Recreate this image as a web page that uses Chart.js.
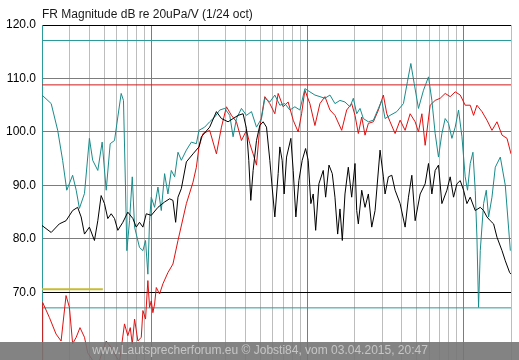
<!DOCTYPE html>
<html><head><meta charset="utf-8">
<script src="https://cdn.jsdelivr.net/npm/chart.js@4.4.0/dist/chart.umd.min.js"></script>
<style>html,body{margin:0;padding:0;background:#fff;overflow:hidden}#wrap{width:519px;height:360px;position:relative;overflow:hidden}canvas{display:block}</style>
</head><body><div id="wrap"><canvas id="c" width="519" height="374"></canvas></div>
<script>
const titleText = "FR Magnitude dB re 20uPa/V (1/24 oct)";
const footerText = "www.Lautsprecherforum.eu \u00A9 Jobsti84, vom 03.04.2015, 20:47";

const xTickValues = [20,30,40,50,60,70,80,90,100,200,300,400,500,600,700,800,900,1000,2000,3000,4000,5000,6000,7000,8000,9000,10000,20000];
const yTickValues = [70,80,90,100,110,120];

const freqTeal = [20,22.9,25.2,27.1,28.8,31.4,33.1,34.7,37.4,40.2,42.2,45.5,48.5,51.5,54.6,58.2,61.1,64.2,66.4,68.4,69.8,72.6,75.6,78.2,84.1,88.4,91.9,95.1,97.5,100,105,110.3,115.9,121.7,127.8,134.3,141.1,148.2,155.7,167.7,180.5,194.3,201.9,219.6,236.4,254.6,274.1,295.1,317.7,333.7,350.7,377.4,406.5,437.5,471,507,532.4,573.2,617.1,664.3,715.2,770,828.9,892.4,960.9,1034,1114,1199,1291,1390,1496,1611,1734,1867,1961,2061,2164,2273,2447,2634,2837,2981,3130,3370,3720,4102,4350,4574,4803,5119,5512,5933,6235,6546,6875,7227,7587,7969,8375,8794,9236,9711,10190,10543,10970,11416,11810,12110,12404,12720,13360,13894,14379,15114,15870,17090,18390,19810];
const dbTeal = [106.9,105.3,100.3,94.7,89.1,91.9,89.1,85.7,88.5,98.8,94.7,92.8,98.1,89.1,97.8,98.4,102.8,107.2,105.9,89.7,77.8,83.4,91.6,82.2,78.4,77.8,79.7,73.4,83.4,87.8,85.9,89.7,85.3,92.2,88.4,92.8,91.6,96.2,94.7,96.6,98.1,97.8,100.3,100.9,101.9,102.8,104.1,104.4,103.1,99.1,102.5,104.4,103.1,103.8,100.9,102.5,106.3,105.6,106.9,105,105.3,104.1,104.7,104.1,108.1,107.5,106.9,106.6,106.3,106.9,105.3,105.9,105.6,104.7,106.3,103.4,104.4,102.5,101.9,102.2,104.4,105.9,102.5,103.1,103.8,105.3,109.4,112.8,109.1,104.4,107.8,110.3,105.9,99.7,95.3,99.7,102.5,101.6,98.8,100.9,104.1,99.1,91.6,89.1,94.1,96.2,89.1,80.3,67.2,77.8,86.6,89.1,84.1,87.8,93.4,95.3,90,77.8];

const freqBlack = [20,22.9,25.8,28.5,31.4,33.8,35.6,37.4,40.2,43.3,45.5,47.8,50.2,52.7,55.4,58.2,61.1,65.8,70.8,76.3,80.1,84.1,88.4,92.9,100,110.3,121.7,131,137.6,143.2,148.2,155.7,167.7,184.9,201.9,209.2,236.4,261.1,281.1,309.9,333.7,359.2,386.6,406.5,420.4,433.1,448.2,471,494.5,519.4,545.9,573.2,593,617.1,648.1,664.3,687.3,707.8,733.4,781.5,808.7,841.2,879.3,923.3,970.9,1009,1049,1086,1126,1181,1259,1304,1370,1438,1496,1557,1611,1667,1734,1821,1914,2010,2061,2111,2219,2330,2447,2572,2701,2907,3053,3130,3287,3456,3628,3906,4205,4417,4642,4874,5248,5649,5933,6235,6546,6875,7227,7780,8168,8579,9017,9470,9946,10449,10970,11810,12720,13360,14038,14740,15481,16273,17524,18390,19606,20000];
const dbBlack = [82.5,81.2,82.8,83.4,85.3,85.9,84.1,80.9,82.2,79.7,83.4,88.1,86.6,83.8,84.7,83.8,81.6,83.1,85.0,83.8,82.2,83.1,82.2,84.7,84.4,85.9,86.9,87.5,87.2,83.1,87.8,89.4,94.4,95.9,97.2,99.1,100.9,103.8,102.5,101.9,102.5,103.1,103.4,100.6,94.7,87.2,92.8,98.4,101.2,101.9,100.9,94.7,89.7,84.1,92.2,97.2,94.7,88.4,95.3,98.8,92.8,84.1,90.9,94.7,96.9,94.7,86.6,88.4,81.6,90.3,92.8,87.8,93.8,92.2,87.8,80.9,85.6,79.7,88.4,93.4,87.8,94.1,85.3,82.8,89.1,85.9,88.4,82.2,85.3,96.6,91.6,88.4,91.6,91.9,89.1,86.6,82.2,87.8,91.9,83.4,88.4,90.3,94.1,88.4,92.8,93.8,86.6,89.1,91.6,87.8,90.3,90.9,89.1,86.6,87.8,85.3,85.9,85.3,84.1,83.4,82.8,80.3,77.8,75.9,73.7,73.4];

const freqRed = [20,20.2,22.3,24.6,26.5,28.5,29.95,31.4,33.1,35.0,37.4,39.2,45,51.5,55.4,59.6,62.6,67.4,70.8,73.4,75.6,78.2,82.1,86.3,88.4,91.9,95.1,97.5,100,102.4,105,107.7,113,118.7,127.8,137.6,148.2,167.7,184.9,194.3,201.9,214.2,236.4,261.1,281.1,302.6,325.8,350.7,377.4,406.5,426.7,448.2,471,494.5,532.4,573.2,617.1,648.1,697.5,750.9,808.7,870.3,915.1,960.9,1034,1114,1199,1291,1390,1496,1652,1778,1914,2010,2111,2219,2330,2447,2634,2837,3053,3210,3370,3628,3906,4205,4527,4874,5119,5381,5649,6081,6546,7048,7587,8168,8794,9470,10190,10970,11522,12110,13043,14038,15114,16273,17524,18857,20000];
const dbRed = [57,68.1,65.3,62.2,60.9,69.4,67.2,60.4,61.6,63.4,61.6,58.7,56,60.9,59.7,58,57,64.1,61.9,63.4,60.3,65.0,60.9,61.6,66.6,65,72.2,67.2,68.4,66.2,67.8,70.9,69.7,71.6,73.7,75.3,79.7,86.6,90.6,93.4,97.2,99.7,100.3,95.9,100.9,104.7,103.1,101.9,98.4,100.3,97.8,95.9,93.8,100.9,106.6,105.3,103.4,107.2,104.7,105.6,102.2,100,103.4,107.8,105.3,101.2,105.3,106.6,104.1,103.1,100.3,104.1,105.3,103.1,99.7,102.8,99.4,101.6,101.9,104.1,106.9,103.4,101.9,99.7,102.2,100.3,103.4,101.9,100,103.4,97.5,105,105.9,106.3,107.2,106.6,107.5,106.9,105,105,103.1,105,103.8,102.2,100.3,101.9,99.4,98.8,95.9];

// reference marker lines
const tealLimitHigh = 117.1;
const redLimit = 108.8;
const tealLimitLow = 67.1;
const yellowLevel = 70.6;
const yellowRange = [20, 49];

function pts(fs, vs){ return fs.map((f,i)=>({x:f, y:vs[i]})); }
function hline(v, a, b){ return [{x:a,y:v},{x:b,y:v}]; }

const TEAL = '#1a8b8b';
const overlay = {
  id:'overlay',
  afterDraw(chart){
    const c = chart.ctx;
    c.save();
    c.fillStyle = '#1a1a1a';
    c.font = '12px "Liberation Sans", Arial, sans-serif';
    c.textAlign = 'left';
    c.textBaseline = 'alphabetic';
    c.fillText(titleText, 42, 18);
    c.fillStyle = 'rgba(118,118,118,0.9)';
    c.fillRect(0, 342, chart.width, 40);
    c.fillStyle = '#c6c6c6';
    c.font = '12px "Liberation Sans", Arial, sans-serif';
    c.textAlign = 'center';
    c.textBaseline = 'middle';
    c.fillText(footerText, 260, 351);
    c.restore();
  }
};

const common = {pointRadius:0, borderWidth:1, tension:0, fill:false, spanGaps:true};

new Chart(document.getElementById('c'), {
  type:'line',
  data:{datasets:[
    {...common, data:pts(freqBlack, dbBlack), borderColor:'#000000'},
    {...common, data:pts(freqTeal, dbTeal), borderColor:TEAL},
    {...common, data:pts(freqRed, dbRed), borderColor:'#e01010'},
    {...common, data:hline(tealLimitHigh, 20, 20000), borderColor:'#2a9a9a'},
    {...common, data:hline(redLimit, 20, 20000), borderColor:'#d01818'},
    {...common, data:hline(tealLimitLow, 20, 20000), borderColor:'#2a9a9a'},
    {...common, data:hline(yellowLevel, yellowRange[0], yellowRange[1]), borderColor:'#c8bc30', borderWidth:2}
  ]},
  options:{
    responsive:false, animation:false, devicePixelRatio:1,
    layout:{padding:{left:0, top:25, right:8, bottom:0}},
    plugins:{legend:{display:false}, tooltip:{enabled:false}, title:{display:false}},
    scales:{
      x:{
        type:'logarithmic', min:20, max:20000,
        afterBuildTicks:s=>{ s.ticks = xTickValues.map(v=>({value:v})); },
        afterFit:s=>{ s.height = 0; },
        ticks:{display:false},
        grid:{drawTicks:false, lineWidth:1, color:c=>{
          const v = c.tick ? c.tick.value : 0;
          return Math.abs(Math.log10(v) - Math.round(Math.log10(v))) < 1e-9 ? '#7c7c7c' : '#bdbdbd';
        }},
        border:{display:false}
      },
      y:{
        type:'linear', min:57.2, max:120,
        afterBuildTicks:s=>{ s.ticks = yTickValues.map(v=>({value:v})); },
        afterFit:s=>{ s.width = 42; },
        ticks:{callback:v=>Number(v).toFixed(1), color:'#000', padding:6, font:{family:'"Liberation Sans", Arial, sans-serif', size:12}},
        grid:{drawTicks:false, lineWidth:1, color:c=>{
          const v = c.tick ? c.tick.value : 0;
          return (v===120 || v===70) ? '#000000' : '#7c7c7c';
        }},
        border:{color:'#2a9a9a', width:1}
      }
    }
  },
  plugins:[overlay]
});
</script></body></html>
